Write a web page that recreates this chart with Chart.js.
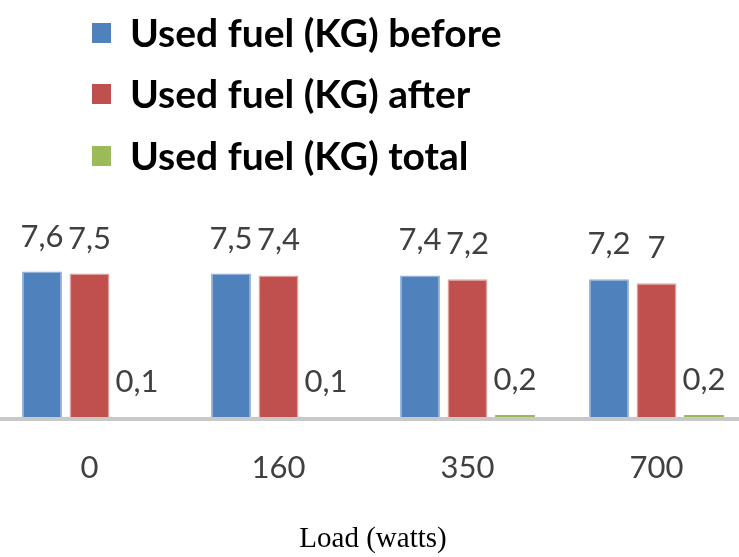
<!DOCTYPE html>
<html>
<head>
<meta charset="utf-8">
<script src="https://cdn.jsdelivr.net/npm/chart.js@4.4.0/dist/chart.umd.min.js"></script>
<style>
  html, body { margin: 0; padding: 0; background: #fff; overflow: hidden; }
  #wrap { position: absolute; left: -5px; top: 0; width: 756px; height: 557px; }
</style>
</head>
<body>
<div id="wrap"><canvas id="fuelChart" width="756" height="557"></canvas></div>
<script>
// values
const loads = ['0', '160', '350', '700'];
const fuelBefore = [7.6, 7.5, 7.4, 7.2];
const fuelAfter = [7.5, 7.4, 7.2, 7];
const fuelTotal = [0.1, 0.1, 0.2, 0.2];

const labelFont = '31px Lato, "Open Sans", sans-serif';

// value labels above each bar, comma as decimal mark
const valueLabels = {
  id: 'valueLabels',
  afterDatasetsDraw(chart) {
    const ctx = chart.ctx;
    ctx.save();
    ctx.font = labelFont;
    ctx.fillStyle = '#404040';
    ctx.textAlign = 'center';
    ctx.textBaseline = 'alphabetic';
    chart.data.datasets.forEach((ds, i) => {
      chart.getDatasetMeta(i).data.forEach((bar, j) => {
        const txt = String(ds.data[j]).replace('.', ',');
        ctx.fillText(txt, bar.x, bar.y - 25);
      });
    });
    ctx.restore();
  }
};

// stacked legend in the top-left corner
const stackedLegend = {
  id: 'stackedLegend',
  afterDraw(chart) {
    const ctx = chart.ctx;
    ctx.save();
    ctx.font = 'bold 39px Lato, "Open Sans", sans-serif';
    ctx.textBaseline = 'middle';
    ctx.textAlign = 'left';
    const rows = [33, 94, 156];
    chart.data.datasets.forEach((ds, i) => {
      ctx.fillStyle = ds.backgroundColor;
      ctx.fillRect(97, rows[i] - 10, 19, 20);
      ctx.fillStyle = '#000';
      ctx.fillText(ds.label, 135, rows[i] + 1);
    });
    ctx.restore();
  }
};

const ctx = document.getElementById('fuelChart').getContext('2d');
const fuelChart = new Chart(ctx, {
  type: 'bar',
  data: {
    labels: loads,
    datasets: [
      { label: 'Used fuel (KG) before', data: fuelBefore, backgroundColor: '#4F81BD', borderColor: '#93B1DA', borderWidth: 1.5 },
      { label: 'Used fuel (KG) after', data: fuelAfter, backgroundColor: '#C0504D', borderColor: '#DDA09F', borderWidth: 1.5 },
      { label: 'Used fuel (KG) total', data: fuelTotal, backgroundColor: '#9BBB59', borderColor: '#9BBB59', borderWidth: 0 }
    ]
  },
  options: {
    responsive: false,
    animation: false,
    layout: { padding: { top: 225, left: 0, right: 0, bottom: 0 } },
    datasets: { bar: { categoryPercentage: 0.754, barPercentage: 0.84 } },
    plugins: { legend: { display: false }, tooltip: { enabled: false } },
    scales: {
      x: {
        grid: { display: false, drawTicks: false },
        border: { display: true, color: '#C8C8C8', width: 4, z: 1 },
        ticks: { color: '#404040', font: { family: 'Lato, "Open Sans", sans-serif', size: 31 }, padding: 30 },
        title: { display: true, text: 'Load (watts)', color: '#000', font: { family: '"Liberation Serif", "Times New Roman", serif', size: 29 }, padding: { top: 6, bottom: 0 } }
      },
      y: {
        display: false,
        min: 0,
        max: 10
      }
    }
  },
  plugins: [valueLabels, stackedLegend]
});
</script>
</body>
</html>
